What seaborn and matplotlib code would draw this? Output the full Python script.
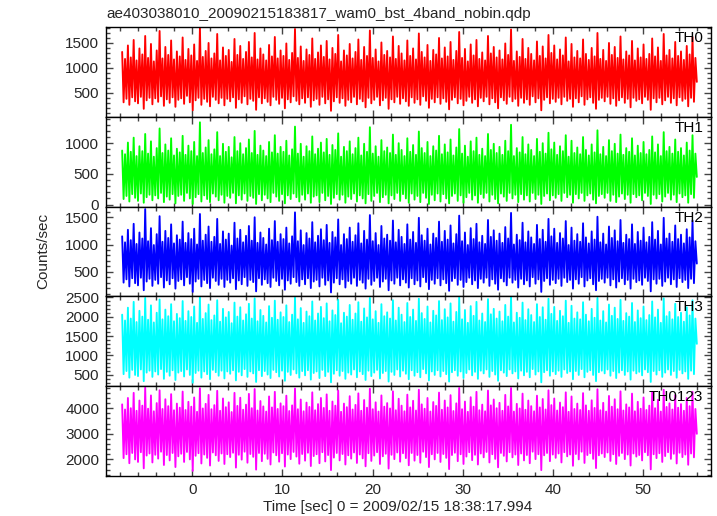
import numpy as np
import matplotlib
matplotlib.use("Agg")
import matplotlib.pyplot as plt
from matplotlib.ticker import MultipleLocator
import seaborn as sns

# light curve, WAM0 burst data, 4 energy bands + sum
title = "ae403038010_20090215183817_wam0_bst_4band_nobin.qdp"
t_start, t_end = -7.8, 56.0

th0 = [
    1320, 310, 1180, 380, 1450, 260, 1210, 410, 1560, 330, 1150, 290, 1390, 420, 1270, 180, 1640, 350, 1200, 400,
    1480, 270, 1130, 390, 1350, 320, 1740, 430, 1190, 240, 1420, 370, 1260, 300, 1550, 410, 1170, 220, 1330, 360,
    1230, 390, 1610, 280, 1160, 440, 1380, 310, 1250, 150, 1470, 350, 1140, 400, 1800, 260, 1220, 380, 1340, 320,
    1500, 230, 1190, 420, 1290, 360, 1680, 290, 1150, 400, 1410, 250, 1240, 380, 1360, 330, 1120, 410, 1580, 200,
    1260, 370, 1440, 300, 1180, 430, 1320, 270, 1520, 380, 1210, 340, 1700, 160, 1170, 410, 1390, 290, 1270, 390,
    1150, 320, 1460, 250, 1230, 420, 1620, 360, 1190, 280, 1350, 400, 1240, 190, 1490, 370, 1160, 310, 1300, 430,
    1780, 340, 1200, 270, 1430, 390, 1140, 300, 1370, 410, 1260, 220, 1590, 350, 1180, 380, 1310, 260, 1450, 420,
    1220, 290, 1540, 370, 1170, 140, 1400, 330, 1280, 410, 1660, 300, 1130, 390, 1350, 240, 1250, 360, 1480, 310,
    1190, 420, 1320, 270, 1570, 380, 1160, 330, 1420, 210, 1240, 400, 1750, 290, 1200, 360, 1370, 420, 1130, 250,
    1510, 350, 1260, 400, 1340, 180, 1210, 370, 1630, 310, 1180, 420, 1440, 280, 1290, 390, 1150, 330, 1550, 240,
    1240, 410, 1390, 300, 1170, 370, 1690, 260, 1320, 430, 1210, 340, 1460, 200, 1140, 380, 1360, 310, 1270, 410,
    1600, 280, 1190, 390, 1410, 320, 1230, 170, 1520, 360, 1160, 410, 1340, 290, 1720, 380, 1200, 250, 1380, 340,
    1130, 420, 1470, 300, 1250, 370, 1560, 230, 1180, 400, 1310, 330, 1150, 420, 1640, 270, 1290, 390, 1420, 310,
    1210, 190, 1350, 410, 1170, 350, 1490, 280, 1260, 420, 1770, 330, 1140, 380, 1330, 240, 1220, 400, 1580, 300,
    1180, 370, 1400, 260, 1280, 430, 1150, 310, 1530, 390, 1240, 150, 1430, 360, 1190, 410, 1660, 290, 1300, 380,
    1450, 320, 1170, 400, 1370, 270, 1250, 420, 1610, 340, 1130, 380, 1480, 220, 1210, 390, 1340, 310, 1190, 430,
    1570, 260, 1280, 370, 1160, 410, 1400, 300, 1230, 180, 1700, 360, 1180, 400, 1360, 330, 1140, 420, 1500, 280,
    1260, 390, 1420, 240, 1200, 350, 1630, 410, 1170, 300, 1330, 380, 1250, 210, 1540, 400, 1150, 340, 1390, 370,
    1210, 290, 1470, 420, 1180, 360, 1280, 160, 1590, 390, 1230, 310, 1410, 400, 1140, 270, 1680, 350, 1250, 420,
    1360, 300, 1190, 390, 1520, 250, 1240, 410, 1330, 340, 1160, 380, 1440, 230, 1270, 400, 1620, 320, 1200, 720,
]

th1 = [
    880, 90, 820, 140, 1010, 50, 860, 170, 1090, 110, 790, 60, 950, 180, 870, 30, 1150, 120, 830, 160,
    1030, 70, 780, 150, 920, 100, 1240, 190, 840, 40, 980, 130, 880, 80, 1080, 170, 800, 20, 910, 140,
    850, 160, 1120, 60, 810, 190, 960, 100, 870, 10, 1020, 120, 790, 170, 1340, 50, 840, 150, 930, 90,
    1050, 40, 820, 180, 900, 130, 1180, 70, 790, 160, 990, 30, 860, 140, 940, 110, 770, 190, 1100, 20,
    870, 150, 1000, 80, 820, 180, 920, 60, 1060, 140, 840, 110, 1200, 10, 810, 170, 960, 70, 880, 160,
    790, 100, 1020, 40, 850, 190, 1130, 130, 830, 60, 940, 170, 860, 20, 1040, 150, 800, 90, 900, 180,
    1270, 120, 830, 50, 990, 160, 780, 80, 950, 180, 870, 30, 1110, 130, 820, 150, 910, 40, 1010, 190,
    850, 70, 1070, 140, 810, 10, 970, 110, 890, 170, 1160, 80, 780, 160, 940, 30, 870, 130, 1030, 90,
    820, 180, 920, 50, 1090, 150, 800, 100, 990, 20, 860, 170, 1260, 60, 830, 140, 950, 190, 780, 40,
    1050, 120, 870, 160, 930, 20, 840, 150, 1140, 90, 810, 190, 1000, 60, 890, 170, 790, 100, 1080, 30,
    860, 180, 970, 80, 810, 140, 1190, 40, 920, 190, 840, 110, 1020, 10, 790, 160, 950, 70, 880, 180,
    1120, 50, 820, 170, 980, 100, 850, 20, 1060, 140, 800, 180, 930, 60, 1230, 150, 830, 30, 960, 120,
    780, 190, 1030, 80, 870, 150, 1090, 30, 810, 170, 910, 110, 790, 190, 1150, 50, 890, 160, 990, 90,
    840, 20, 940, 180, 810, 130, 1040, 60, 870, 190, 1300, 100, 790, 160, 920, 40, 850, 170, 1100, 80,
    820, 150, 980, 50, 890, 190, 790, 90, 1070, 160, 860, 10, 1000, 140, 830, 180, 1170, 70, 900, 150,
    1010, 110, 810, 170, 950, 60, 870, 190, 1130, 120, 780, 160, 1040, 30, 840, 170, 930, 100, 820, 190,
    1100, 60, 890, 150, 800, 180, 980, 80, 850, 20, 1210, 140, 820, 170, 940, 110, 790, 190, 1050, 60,
    870, 160, 990, 40, 830, 130, 1140, 180, 810, 90, 920, 160, 860, 30, 1080, 170, 800, 120, 960, 150,
    840, 70, 1020, 190, 820, 140, 890, 10, 1110, 160, 850, 100, 980, 170, 790, 50, 1180, 130, 870, 190,
    940, 80, 830, 160, 1060, 40, 860, 180, 920, 120, 800, 150, 1010, 30, 880, 170, 1130, 110, 830, 450,
]

th2 = [
    1150, 300, 1040, 360, 1270, 230, 1080, 380, 1380, 290, 1010, 250, 1220, 390, 1110, 160, 1650, 320, 1060, 370,
    1300, 240, 990, 350, 1190, 280, 1520, 400, 1050, 210, 1250, 340, 1120, 270, 1370, 380, 1020, 190, 1170, 330,
    1090, 360, 1420, 250, 1030, 400, 1210, 280, 1100, 130, 1290, 320, 1000, 370, 1560, 230, 1070, 350, 1180, 290,
    1330, 200, 1050, 390, 1140, 330, 1470, 260, 1010, 370, 1240, 220, 1090, 350, 1200, 300, 980, 380, 1400, 180,
    1110, 340, 1270, 270, 1040, 400, 1160, 240, 1340, 350, 1070, 310, 1500, 140, 1030, 380, 1220, 260, 1120, 360,
    1000, 290, 1290, 220, 1080, 390, 1430, 330, 1050, 250, 1190, 370, 1100, 170, 1310, 340, 1020, 280, 1150, 400,
    1590, 310, 1060, 240, 1260, 360, 990, 270, 1210, 380, 1110, 200, 1410, 320, 1040, 350, 1160, 230, 1280, 390,
    1080, 260, 1360, 340, 1030, 120, 1230, 300, 1130, 380, 1460, 270, 990, 360, 1190, 210, 1100, 330, 1310, 280,
    1050, 390, 1170, 240, 1390, 350, 1020, 300, 1250, 190, 1090, 370, 1540, 260, 1060, 330, 1210, 390, 990, 220,
    1340, 320, 1110, 370, 1180, 160, 1070, 340, 1440, 280, 1040, 390, 1270, 250, 1140, 360, 1010, 300, 1370, 210,
    1090, 380, 1230, 270, 1030, 340, 1490, 230, 1170, 400, 1070, 310, 1290, 180, 1000, 350, 1200, 280, 1120, 380,
    1420, 250, 1050, 360, 1250, 290, 1090, 150, 1350, 330, 1020, 380, 1190, 260, 1530, 350, 1060, 220, 1220, 310,
    990, 390, 1300, 270, 1100, 340, 1380, 200, 1040, 370, 1160, 300, 1010, 390, 1450, 240, 1140, 360, 1260, 280,
    1070, 170, 1200, 380, 1030, 320, 1320, 250, 1110, 390, 1580, 300, 1000, 350, 1180, 210, 1080, 370, 1400, 270,
    1040, 340, 1240, 230, 1130, 400, 1010, 280, 1360, 360, 1100, 130, 1270, 330, 1050, 380, 1470, 260, 1150, 350,
    1290, 290, 1030, 370, 1210, 240, 1110, 390, 1430, 310, 990, 350, 1310, 190, 1070, 360, 1190, 280, 1050, 400,
    1390, 230, 1130, 340, 1020, 380, 1240, 270, 1090, 160, 1510, 330, 1040, 370, 1200, 300, 1000, 390, 1330, 250,
    1120, 360, 1260, 210, 1060, 320, 1450, 380, 1030, 270, 1180, 350, 1100, 190, 1370, 370, 1010, 310, 1230, 340,
    1070, 260, 1310, 390, 1040, 330, 1140, 140, 1410, 360, 1090, 280, 1250, 370, 1000, 240, 1490, 320, 1110, 390,
    1200, 270, 1050, 360, 1350, 220, 1100, 380, 1180, 310, 1020, 350, 1280, 200, 1130, 370, 1440, 290, 1060, 650,
]

th3 = [
    2050, 520, 1900, 600, 2230, 430, 1950, 630, 2380, 500, 1860, 470, 2150, 640, 2000, 340, 2480, 560, 1920, 610,
    2290, 450, 1850, 590, 2100, 510, 2440, 650, 1930, 400, 2180, 580, 2010, 480, 2320, 620, 1880, 370, 2070, 560,
    1960, 600, 2400, 460, 1890, 640, 2140, 500, 1990, 300, 2260, 550, 1840, 610, 2500, 430, 1940, 590, 2090, 520,
    2310, 390, 1910, 630, 2030, 570, 2420, 480, 1870, 610, 2200, 410, 1980, 590, 2120, 530, 1830, 620, 2360, 360,
    2000, 580, 2240, 490, 1900, 650, 2060, 450, 2330, 590, 1950, 540, 2470, 320, 1880, 620, 2170, 470, 2020, 600,
    1850, 510, 2270, 420, 1970, 630, 2410, 570, 1920, 460, 2110, 610, 1990, 350, 2290, 580, 1860, 500, 2050, 640,
    2490, 540, 1930, 430, 2220, 600, 1840, 490, 2130, 620, 2010, 380, 2390, 550, 1900, 590, 2080, 420, 2250, 630,
    1960, 470, 2340, 580, 1880, 310, 2160, 530, 2040, 620, 2430, 480, 1830, 600, 2100, 400, 2000, 560, 2300, 510,
    1920, 640, 2080, 440, 2370, 590, 1870, 520, 2210, 370, 1980, 610, 2480, 470, 1930, 560, 2140, 630, 1840, 410,
    2320, 550, 2010, 600, 2110, 330, 1950, 580, 2420, 500, 1900, 640, 2230, 460, 2050, 610, 1860, 530, 2350, 390,
    1990, 620, 2180, 480, 1890, 570, 2460, 440, 2090, 650, 1940, 540, 2260, 360, 1850, 590, 2150, 500, 2030, 620,
    2400, 460, 1910, 600, 2190, 520, 1980, 330, 2340, 570, 1870, 620, 2120, 480, 2490, 590, 1930, 420, 2170, 550,
    1840, 640, 2270, 490, 2020, 580, 2380, 400, 1900, 610, 2080, 540, 1860, 640, 2450, 450, 2060, 600, 2200, 510,
    1950, 350, 2130, 620, 1880, 560, 2300, 470, 2000, 640, 2500, 540, 1850, 590, 2100, 410, 1970, 610, 2360, 490,
    1910, 580, 2190, 440, 2040, 650, 1860, 510, 2320, 590, 1990, 310, 2240, 570, 1920, 620, 2460, 480, 2070, 590,
    2250, 520, 1890, 610, 2150, 450, 2010, 640, 2410, 550, 1840, 590, 2280, 390, 1950, 600, 2110, 500, 1930, 650,
    2370, 440, 2050, 580, 1880, 620, 2200, 500, 1970, 340, 2480, 570, 1900, 610, 2140, 540, 1850, 640, 2310, 480,
    2020, 600, 2230, 420, 1940, 560, 2430, 620, 1890, 500, 2090, 590, 2000, 380, 2350, 610, 1860, 540, 2160, 580,
    1960, 490, 2260, 640, 1910, 570, 2040, 320, 2390, 600, 1980, 510, 2180, 620, 1840, 450, 2470, 560, 2010, 640,
    2120, 500, 1930, 600, 2330, 430, 1990, 630, 2100, 540, 1870, 590, 2240, 400, 2030, 610, 2420, 520, 1950, 1300,
]

th0123 = [
    4150, 2050, 3950, 2200, 4400, 1850, 4000, 2250, 4600, 2000, 3900, 1900, 4300, 2280, 4100, 1650, 4800, 2150, 3980, 2230,
    4500, 1880, 3880, 2180, 4200, 2030, 4700, 2300, 3970, 1780, 4350, 2170, 4080, 1960, 4550, 2250, 3920, 1700, 4180, 2120,
    4020, 2220, 4650, 1900, 3930, 2290, 4250, 2000, 4060, 1550, 4420, 2140, 3860, 2240, 4780, 1840, 3990, 2190, 4170, 2060,
    4520, 1760, 3960, 2270, 4120, 2160, 4680, 1940, 3900, 2230, 4380, 1820, 4040, 2200, 4230, 2090, 3850, 2260, 4600, 1680,
    4090, 2180, 4410, 1990, 3940, 2300, 4140, 1870, 4560, 2210, 4000, 2100, 4750, 1600, 3910, 2250, 4280, 1930, 4070, 2220,
    3870, 2020, 4460, 1800, 4030, 2270, 4640, 2160, 3970, 1910, 4190, 2240, 4080, 1720, 4490, 2190, 3890, 2010, 4110, 2290,
    4770, 2110, 3960, 1830, 4340, 2210, 3880, 1950, 4220, 2260, 4050, 1740, 4620, 2130, 3920, 2200, 4160, 1850, 4400, 2280,
    4010, 1920, 4540, 2170, 3900, 1580, 4260, 2070, 4100, 2250, 4690, 1960, 3860, 2210, 4180, 1800, 4040, 2160, 4470, 2030,
    3950, 2270, 4130, 1860, 4580, 2190, 3900, 2040, 4320, 1730, 4020, 2240, 4760, 1940, 3960, 2150, 4230, 2280, 3870, 1820,
    4500, 2120, 4060, 2220, 4200, 1640, 3990, 2180, 4660, 2010, 3920, 2270, 4370, 1910, 4100, 2240, 3880, 2050, 4530, 1770,
    4030, 2250, 4290, 1950, 3910, 2170, 4720, 1870, 4150, 2300, 3980, 2090, 4400, 1700, 3870, 2200, 4240, 2000, 4090, 2250,
    4610, 1900, 3940, 2210, 4300, 2060, 4030, 1620, 4510, 2170, 3890, 2260, 4190, 1930, 4790, 2200, 3960, 1820, 4260, 2110,
    3860, 2280, 4430, 1970, 4060, 2180, 4640, 1800, 3920, 2230, 4140, 2080, 3880, 2290, 4690, 1880, 4110, 2200, 4340, 2020,
    4000, 1690, 4210, 2250, 3900, 2140, 4520, 1920, 4070, 2280, 4790, 2080, 3870, 2190, 4170, 1780, 3990, 2230, 4570, 1960,
    3940, 2170, 4300, 1850, 4080, 2300, 3880, 2010, 4490, 2200, 4030, 1580, 4360, 2160, 3950, 2250, 4700, 1930, 4120, 2190,
    4380, 2060, 3910, 2230, 4220, 1880, 4040, 2280, 4620, 2120, 3860, 2190, 4460, 1750, 3970, 2210, 4180, 2000, 3930, 2300,
    4590, 1860, 4110, 2170, 3900, 2240, 4310, 2020, 4010, 1660, 4740, 2160, 3920, 2230, 4210, 2090, 3870, 2270, 4480, 1940,
    4060, 2200, 4350, 1820, 3960, 2140, 4660, 2250, 3910, 2010, 4150, 2190, 4030, 1760, 4570, 2230, 3880, 2110, 4250, 2170,
    3980, 1960, 4420, 2280, 3930, 2160, 4100, 1610, 4630, 2200, 4000, 2050, 4330, 2240, 3870, 1900, 4720, 2130, 4050, 2280,
    4190, 2020, 3950, 2220, 4510, 1840, 4020, 2260, 4160, 2090, 3900, 2190, 4400, 1790, 4080, 2230, 4640, 2080, 3970, 3000,
]

band_names = ["TH0", "TH1", "TH2", "TH3", "TH0123"]
band_values = [th0, th1, th2, th3, th0123]
band_colors = ["#ff0000", "#00ff00", "#0000ff", "#00ffff", "#ff00ff"]
band_ylims = [(20, 1820), (-33, 1430), (47, 1696), (210, 2520), (1350, 4860)]
band_major = [500, 500, 500, 500, 1000]
band_minor = [100, 100, 100, 100, 200]

sns.set_theme(style="ticks")
plt.rcParams['font.family'] = ['Liberation Sans', 'DejaVu Sans']
plt.rcParams['font.size'] = 11

fig, axes = plt.subplots(5, 1, figsize=(7.17, 5.16), dpi=100, sharex=True)
fig.subplots_adjust(left=0.148, right=0.9916, top=0.9477, bottom=0.0775, hspace=0)

for ax, name, vals, col, ylim, maj, mnr in zip(axes, band_names, band_values, band_colors,
                                             band_ylims, band_major, band_minor):
    t = np.linspace(t_start, t_end, len(vals))
    sns.lineplot(x=t, y=vals, ax=ax, color=col, lw=1.35, estimator=None)
    ax.set_ylim(*ylim)
    ax.set_xlim(-9.58, 57.57)
    ax.set_ylabel("")
    ax.yaxis.set_major_locator(MultipleLocator(maj))
    ax.yaxis.set_minor_locator(MultipleLocator(mnr))
    ax.xaxis.set_major_locator(MultipleLocator(10))
    ax.xaxis.set_minor_locator(MultipleLocator(2))
    ax.tick_params(which="both", direction="in", top=True, right=True,
                   color="#444444", width=1, labelsize=11, pad=5)
    ax.tick_params(which="major", length=5)
    ax.tick_params(which="minor", length=3)
    for sp in ax.spines.values():
        sp.set_color("black")
        sp.set_linewidth(1)
        sp.set_zorder(3)
    ax.text(0.987, 0.878, name, transform=ax.transAxes, ha="right", va="center",
            fontsize=11, color="black", zorder=4)

fig.text(0.149, 0.973, title, ha="left", va="center", fontsize=11)
fig.text(0.06, 0.5136, "Counts/sec", rotation=90, ha="center", va="center", fontsize=11)
fig.text(0.555, 0.017, "Time [sec] 0 = 2009/02/15 18:38:17.994", ha="center", va="center",
         fontsize=11)

fig.savefig("out.png", dpi=100)
